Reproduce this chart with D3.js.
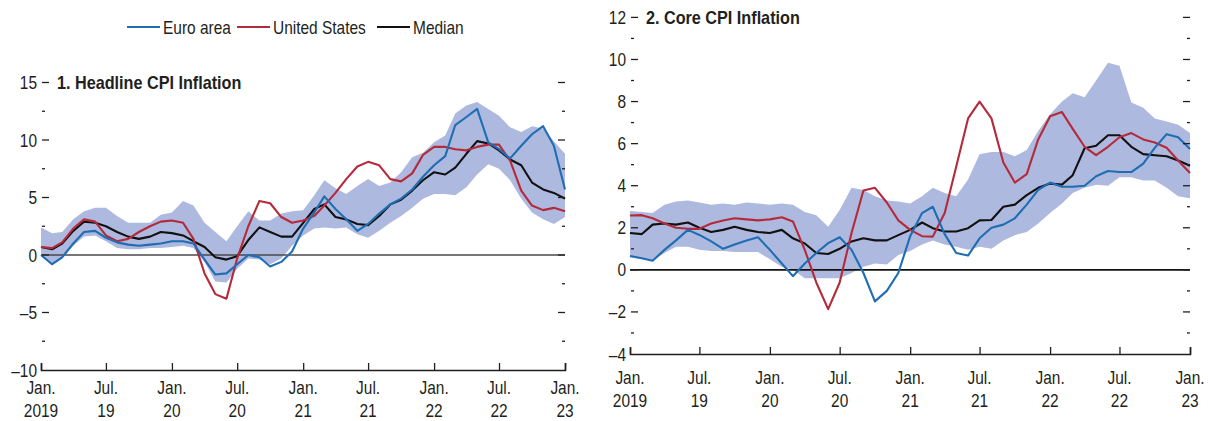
<!DOCTYPE html>
<html>
<head>
<meta charset="utf-8">
<script src="https://cdn.jsdelivr.net/npm/d3@7"></script>
<style>
  body { margin: 0; background: #fff; }
  svg text { font-family: "Liberation Sans", Arial, sans-serif; fill: #231f20; }
</style>
</head>
<body>
<svg id="chart" width="1208" height="421"></svg>
<script>
// months Jan 2019 .. Jan 2023
var months = d3.range(49).map(function(i) { return new Date(2019, i, 1); });
var tickDates = d3.range(0, 49, 6).map(function(i) { return new Date(2019, i, 1); });
var tickLabels = [["Jan.", "2019"], ["Jul.", "19"], ["Jan.", "20"], ["Jul.", "20"], ["Jan.", "21"],
                  ["Jul.", "21"], ["Jan.", "22"], ["Jul.", "22"], ["Jan.", "23"]];
var seriesNames = ["Euro area", "United States", "Median"];

// Panel 1: headline CPI inflation
var headEuro = [0.0, -0.8, -0.2, 1.0, 2.0, 2.1, 1.5, 1.1, 0.9, 0.8, 0.9, 1.0, 1.2, 1.2, 1.0, -0.4, -1.7, -1.6, -0.8, 0.0,
  -0.2, -1.0, -0.6, 0.3, 2.3, 3.7, 5.1, 4.0, 3.1, 2.1, 2.7, 3.6, 4.4, 4.9, 5.7, 6.8, 7.8, 8.6, 11.3, 12.0,
  12.7, 9.8, 9.2, 8.4, 9.5, 10.5, 11.2, 9.5, 5.7];
var headUS = [0.7, 0.6, 1.1, 2.3, 3.1, 2.9, 1.7, 1.2, 1.4, 2.0, 2.5, 2.9, 3.0, 2.8, 1.4, -1.6, -3.4, -3.8, -0.3, 2.5,
  4.7, 4.5, 3.3, 2.8, 3.0, 3.4, 4.3, 5.4, 6.6, 7.7, 8.1, 7.8, 6.6, 6.4, 7.1, 8.7, 9.4, 9.4, 9.2, 9.1,
  9.4, 9.6, 9.6, 8.2, 5.6, 4.3, 3.9, 4.1, 3.8];
var headMedian = [0.7, 0.5, 1.0, 2.1, 2.9, 2.8, 2.5, 2.0, 1.6, 1.4, 1.6, 2.0, 1.9, 1.7, 1.2, 0.7, -0.2, -0.4, -0.1, 1.3,
  2.4, 2.0, 1.6, 1.6, 2.8, 4.0, 4.4, 3.3, 3.1, 2.7, 2.6, 3.4, 4.4, 4.8, 5.6, 6.5, 7.2, 7.0, 7.6, 8.8,
  9.9, 9.7, 9.1, 8.3, 7.8, 6.3, 5.7, 5.4, 4.9];
var headHigh = [2.4, 1.9, 2.0, 3.1, 3.8, 4.1, 4.1, 3.4, 2.8, 2.8, 2.8, 3.5, 3.7, 4.7, 4.3, 2.8, 2.0, 1.2, 2.5, 3.8,
  3.0, 3.0, 3.6, 3.8, 3.9, 5.2, 6.5, 5.8, 5.3, 6.0, 6.6, 6.0, 6.3, 7.2, 8.5, 8.9, 9.8, 10.4, 12.3, 13.0,
  13.3, 12.7, 12.1, 11.1, 10.7, 11.2, 11.0, 9.9, 8.8];
var headLow = [-0.1, -0.9, -0.3, 0.8, 1.6, 1.7, 1.2, 0.6, 0.5, 0.5, 0.6, 0.6, 0.7, 0.8, 0.6, -0.6, -2.3, -2.4, -1.2, -0.3,
  -0.4, -0.8, -0.3, 0.8, 1.7, 2.3, 2.4, 2.3, 2.4, 1.8, 1.5, 2.1, 2.8, 3.4, 4.1, 4.9, 5.3, 5.3, 5.2, 5.9,
  7.0, 7.9, 7.5, 6.5, 4.9, 3.7, 3.1, 2.7, 3.3];

// Panel 2: core CPI inflation
var coreEuro = [0.66, 0.55, 0.43, 0.95, 1.4, 1.9, 1.66, 1.35, 1.0, 1.2, 1.4, 1.55, 0.95, 0.3, -0.3, 0.3, 0.8, 1.27, 1.55, 0.95,
  -0.15, -1.5, -1.0, -0.15, 1.6, 2.7, 3.0, 1.7, 0.8, 0.68, 1.5, 2.0, 2.15, 2.45, 3.1, 3.8, 4.15, 3.95, 3.95, 4.0,
  4.45, 4.7, 4.65, 4.65, 5.05, 5.8, 6.45, 6.3, 5.75];
var coreUS = [2.58, 2.6, 2.45, 2.2, 2.0, 1.95, 1.95, 2.2, 2.35, 2.45, 2.4, 2.35, 2.4, 2.5, 2.3, 0.95, -0.6, -1.87, -0.6, 1.75,
  3.77, 3.9, 3.2, 2.35, 1.9, 1.6, 1.58, 2.7, 4.9, 7.2, 8.0, 7.2, 5.1, 4.15, 4.55, 6.2, 7.3, 7.5, 6.7, 5.85,
  5.45, 5.85, 6.3, 6.5, 6.2, 6.05, 5.8, 5.2, 4.6];
var coreMedian = [1.75, 1.7, 2.15, 2.2, 2.15, 2.25, 2.0, 1.8, 1.9, 2.05, 1.9, 1.8, 1.75, 1.9, 1.5, 1.25, 0.8, 0.75, 1.0, 1.35,
  1.5, 1.4, 1.4, 1.65, 1.9, 2.25, 1.98, 1.82, 1.82, 1.98, 2.35, 2.37, 3.0, 3.1, 3.55, 3.9, 4.1, 4.05, 4.5, 5.78,
  5.9, 6.4, 6.4, 5.85, 5.5, 5.45, 5.4, 5.2, 4.95];
var coreHigh = [2.8, 2.75, 2.7, 3.1, 3.25, 3.3, 3.2, 3.1, 3.15, 3.1, 3.2, 3.15, 3.1, 3.15, 3.1, 2.75, 2.6, 2.05, 2.85, 3.9,
  3.8, 3.5, 3.3, 3.25, 3.15, 3.5, 3.9, 3.65, 3.5, 4.3, 5.5, 5.6, 5.6, 5.4, 5.7, 6.6, 7.4, 8.0, 8.4, 8.2,
  9.0, 9.85, 9.7, 7.95, 7.7, 7.2, 7.05, 6.9, 6.5];
var coreLow = [0.6, 0.5, 0.45, 0.8, 1.1, 1.1, 0.95, 0.9, 0.9, 0.85, 0.85, 0.85, 0.5, 0.15, 0.0, -0.4, -0.4, -0.4, -0.4, -0.15,
  0.15, 0.3, 0.25, 0.7, 0.9, 1.2, 1.4, 1.2, 1.1, 0.95, 1.1, 1.0, 1.4, 1.65, 1.8, 2.2, 2.7, 3.15, 3.65, 3.9,
  4.05, 4.0, 4.4, 4.4, 4.25, 4.25, 3.9, 3.5, 3.4];

var colors = ["#1f6db3", "#b52a3a", "#111111"];
var bandColor = "#adb9de";
var squeeze = 0.86; // condensed look, the original uses a narrow face

var svg = d3.select("#chart");

// text squeezed horizontally around its anchor point
function label(g, x, y, str, size, anchor, bold) {
  return g.append("text")
    .attr("transform", "translate(" + x + "," + y + ") scale(" + (bold ? 0.9 : squeeze) + ",1)")
    .attr("text-anchor", anchor)
    .style("font-size", size + "px")
    .style("font-weight", bold ? "bold" : "normal")
    .text(str);
}

function drawPanel(opt) {
  var x = d3.scaleTime().domain([months[0], months[48]]).range([opt.x0, opt.x1]);
  var y = d3.scaleLinear().domain(opt.domain).range([opt.y0, opt.y1]);
  var g = svg.append("g");

  // shaded range
  var area = d3.area()
    .x(function(d, i) { return x(months[i]); })
    .y0(function(d, i) { return y(opt.low[i]); })
    .y1(function(d) { return y(d); });
  g.append("path").datum(opt.high)
    .attr("d", area)
    .attr("fill", bandColor);

  // zero line
  g.append("line")
    .attr("x1", opt.x0).attr("x2", opt.x1)
    .attr("y1", y(0)).attr("y2", y(0))
    .attr("stroke", opt.zeroColor).attr("stroke-width", 1.6);

  var line = d3.line()
    .x(function(d, i) { return x(months[i]); })
    .y(function(d) { return y(d); });
  [opt.median, opt.us, opt.euro].forEach(function(s, k) {
    g.append("path").datum(s)
      .attr("d", line)
      .attr("fill", "none")
      .attr("stroke", [colors[2], colors[1], colors[0]][k])
      .attr("stroke-width", 2.1)
      .attr("stroke-linejoin", "round");
  });

  // y ticks, drawn inwards on both sides
  var ticks = d3.range(opt.domain[0], opt.domain[1] + 0.001, opt.step / 2);
  ticks.forEach(function(t, i) {
    var major = i % 2 === 0;
    var len = major ? 7 : 3;
    if (t !== opt.domain[0]) {
      g.append("line").attr("x1", opt.x0 + 1).attr("x2", opt.x0 + 1 + len)
        .attr("y1", y(t)).attr("y2", y(t)).attr("stroke", "#231f20").attr("stroke-width", 1.3);
      g.append("line").attr("x1", opt.x1).attr("x2", opt.x1 - len)
        .attr("y1", y(t)).attr("y2", y(t)).attr("stroke", "#231f20").attr("stroke-width", 1.3);
    }
    if (major) {
      label(g, opt.x0 - 4, y(t) + 6.5, t < 0 ? "\u2013" + Math.abs(t) : String(t), 18, "end");
    }
  });

  // x axis
  var xAxis = d3.axisBottom(x).tickValues(tickDates).tickSize(-7).tickFormat("");
  var ax = g.append("g").attr("transform", "translate(0," + opt.y0 + ")").call(xAxis);
  ax.select(".domain").attr("stroke", "#231f20").attr("stroke-width", 1.6);
  ax.selectAll(".tick line").attr("stroke", "#231f20").attr("stroke-width", 1.3);

  tickDates.forEach(function(d, i) {
    label(g, x(d), opt.labY, tickLabels[i][0], 18, "middle");
    label(g, x(d), opt.labY + 23, tickLabels[i][1], 18, "middle");
  });

  label(g, opt.x0 + 16, y(opt.domain[1]) + 6.5, opt.title, 18, "start", true);
}

drawPanel({
  title: "1. Headline CPI Inflation",
  x0: 41, x1: 565, y0: 370, y1: 82.5, domain: [-10, 15], step: 5, labY: 394,
  euro: headEuro, us: headUS, median: headMedian, high: headHigh, low: headLow,
  zeroColor: "#4a4a4a"
});

drawPanel({
  title: "2. Core CPI Inflation",
  x0: 630, x1: 1190, y0: 354, y1: 17.4, domain: [-4, 12], step: 2, labY: 384,
  euro: coreEuro, us: coreUS, median: coreMedian, high: coreHigh, low: coreLow,
  zeroColor: "#111111"
});

// legend
var legendX = [127, 237, 377];
var legend = svg.selectAll(".legend")
  .data(seriesNames)
  .enter().append("g")
  .attr("class", "legend")
  .attr("transform", function(d, i) { return "translate(" + legendX[i] + ",27)"; });
legend.append("line")
  .attr("x1", 0).attr("x2", 33).attr("y1", 0).attr("y2", 0)
  .attr("stroke", function(d, i) { return colors[i]; })
  .attr("stroke-width", 2.2);
legend.each(function(d) {
  label(d3.select(this), 36, 6.5, d, 18, "start");
});
</script>
</body>
</html>
